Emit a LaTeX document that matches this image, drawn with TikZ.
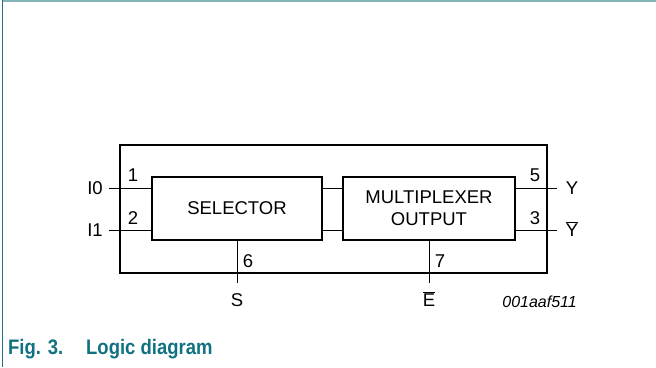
\documentclass[tikz,border=0pt]{standalone}
\usepackage{fontspec}
\setmainfont{Liberation Sans}
\usepackage{tikz}
\usetikzlibrary{calc}
\definecolor{capteal}{RGB}{16,114,128}
\definecolor{framedark}{RGB}{40,110,140}
\definecolor{framelight}{RGB}{130,180,186}
\tikzset{
	chipstyle/.style={rectangle,draw=black,line width=2.5pt,inner sep=0pt},
	blockstyle/.style={rectangle,draw=black,line width=2pt,fill=white,inner sep=0pt,align=center,font=\fontsize{18.5}{22}\selectfont},
	pinstyle/.style={draw=black,line width=1pt},
	numstyle/.style={inner sep=0pt,anchor=base,font=\fontsize{18.5}{22}\selectfont},
	sigstyle/.style={inner sep=0pt,anchor=base,font=\fontsize{18.5}{22}\selectfont},
	captionstyle/.style={inner sep=0pt,anchor=base west,text=capteal,font=\fontsize{21}{24}\selectfont\bfseries}
}
\begin{document}
\begin{tikzpicture}[x=1pt,y=-1pt]
	\useasboundingbox (0,0) rectangle (656,367);
	\draw[framelight,line width=2pt] (2,1)--(656,1);
	\draw[framedark,line width=1pt] (2,0)--(2,367);
	\node[chipstyle,minimum width=427,minimum height=128] (chip) at (333.5,209) {};
	\node[blockstyle,minimum width=170,minimum height=63] (sel) at (237,208.5) {SELECTOR};
	\node[blockstyle,minimum width=172,minimum height=63] (mux) at (429,208.5) {MULTIPLEXER\\OUTPUT};
	\coordinate (i0) at (109,188);
	\coordinate (i1) at (109,230);
	\coordinate (y) at (557,188);
	\coordinate (yn) at (557,230);
	\coordinate (s) at (237,283);
	\coordinate (en) at (429,283);
	\draw[pinstyle] (i0)--(i0-|sel.west);
	\draw[pinstyle] (i1)--(i1-|sel.west);
	\draw[pinstyle] (i0-|sel.east)--(i0-|mux.west);
	\draw[pinstyle] (i1-|sel.east)--(i1-|mux.west);
	\draw[pinstyle] (y-|mux.east)--(y);
	\draw[pinstyle] (yn-|mux.east)--(yn);
	\draw[pinstyle] (sel.south)--(s);
	\draw[pinstyle] (mux.south)--(en);
	\node[numstyle] (p1) at (133,181) {1};
	\node[numstyle] (p2) at (133,224) {2};
	\node[numstyle] (p5) at (535,181) {5};
	\node[numstyle] (p3) at (535,224) {3};
	\node[numstyle] (p6) at (248,267.5) {6};
	\node[numstyle] (p7) at (440,267.5) {7};
	\node[sigstyle] (li0) at (95,194.6) {I0};
	\node[sigstyle] (li1) at (95,236.6) {I1};
	\node[sigstyle] (ly) at (572,194.6) {Y};
	\node[sigstyle] (lyn) at (572,236.6) {$\overline{\mbox{Y}}$};
	\node[sigstyle] (ls) at (237,306.6) {S};
	\node[sigstyle] (len) at (429,306.6) {$\overline{\mbox{E}}$};
	\node[inner sep=0pt,anchor=base east,font=\fontsize{16}{18}\selectfont\itshape] (code) at (577,307.5) {001aaf511};
	\node[captionstyle] (fig) at (8,354) {\scalebox{0.88}[1]{Fig. 3.}};
	\node[captionstyle] (title) at (86,354) {\scalebox{0.88}[1]{Logic diagram}};
\end{tikzpicture}
\end{document}
